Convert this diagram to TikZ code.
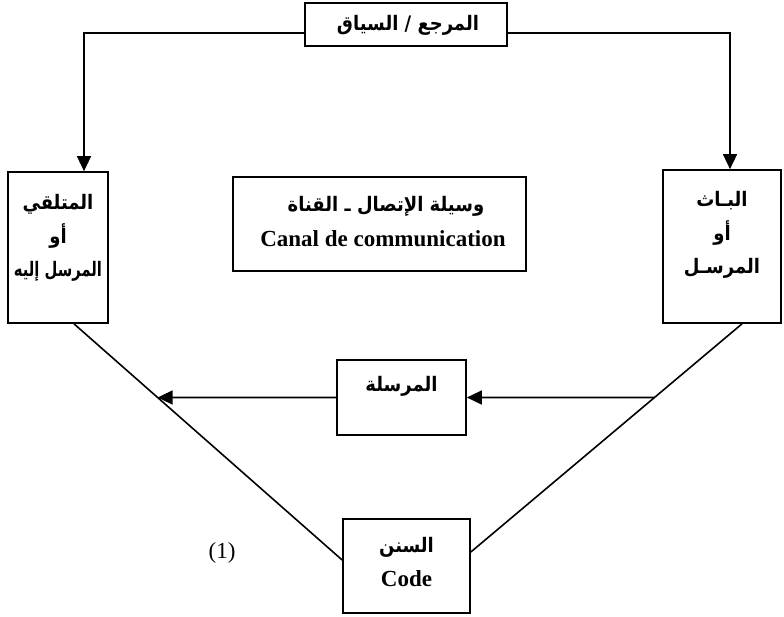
\documentclass[tikz,border=0pt]{standalone}
\usepackage{fontspec}
\setmainfont{Liberation Serif}
\newfontfamily\arabicfont[Script=Arabic, FakeStretch=0.9]{DejaVu Sans}
\TeXXeTstate=1
\usetikzlibrary{arrows.meta,calc}
\newcommand{\ar}[1]{{\arabicfont\bfseries\beginR #1\endR}}
\begin{document}
\begin{tikzpicture}[x=1pt,y=-1pt,
  box/.style={draw, line width=1.7pt, inner sep=0pt},
  conn/.style={line width=1.6pt},
  arr/.style={line width=1.6pt, -{Triangle[length=15pt,width=14pt]}},
  lat/.style={font=\fontsize{23}{33}\selectfont\bfseries, inner sep=0pt},
  arf/.style={font=\fontsize{20}{33.5}\selectfont, align=center, inner sep=0pt},
  plain/.style={font=\fontsize{23}{33}\selectfont, inner sep=0pt}]
\useasboundingbox (0,0) rectangle (784,617);
% boxes
\node[box, minimum width=202pt, minimum height=43pt] (ctx) at (406,24.5) {};
\node[box, minimum width=100pt, minimum height=151pt] (recv) at (58,247.5) {};
\node[box, minimum width=118pt, minimum height=153pt] (send) at (722,246.5) {};
\node[box, minimum width=293pt, minimum height=94pt] (mid) at (379.5,224) {};
\node[box, minimum width=129pt, minimum height=75pt] (msg) at (401.5,397.5) {};
\node[box, minimum width=127pt, minimum height=94pt] (code) at (406.5,566) {};
% texts
\node[arf] (tctx) at (408,25) {\ar{المرجع / السياق}};
\node[arf] (trecv) at (58,238) {\ar{المتلقي}\\\ar{أو}\\\scalebox{0.82}[1]{\ar{المرسل إليه}}};
\node[arf] (tsend) at (722,235) {\ar{البـاث}\\\ar{أو}\\\ar{المرسـل}};
\node[arf] (tmid1) at (386,206) {\ar{وسيلة الإتصال ـ القناة}};
\node[lat] (tmid2) at (383,239) {Canal de communication};
\node[arf] (tmsg) at (401.5,386) {\ar{المرسلة}};
\node[arf] (tcode1) at (406.5,547) {\ar{السنن}};
\node[lat] (tcode2) at (406.5,579) {Code};
\node[plain] (one) at (222,553) {(1)};
% connectors from top box
\draw[arr] ([yshift=-8.5pt]ctx.west) -| ([xshift=26pt]recv.north);
\draw[arr] ([yshift=-8.5pt]ctx.east) -| ([xshift=8pt]send.north);
% diagonals
\coordinate (ld1) at ([xshift=16pt]recv.south);
\coordinate (ld2) at ([yshift=6pt]code.west);
\coordinate (rd1) at ([xshift=20pt]send.south);
\coordinate (rd2) at ([yshift=14pt]code.east);
\draw[conn] (ld1) -- (ld2);
\draw[conn] (rd1) -- (rd2);
% message arrows
\draw[arr] (msg.west) -- (intersection of ld1--ld2 and msg.west--msg.east);
\draw[arr] (intersection of rd1--rd2 and msg.west--msg.east) -- (msg.east);
\end{tikzpicture}
\end{document}
